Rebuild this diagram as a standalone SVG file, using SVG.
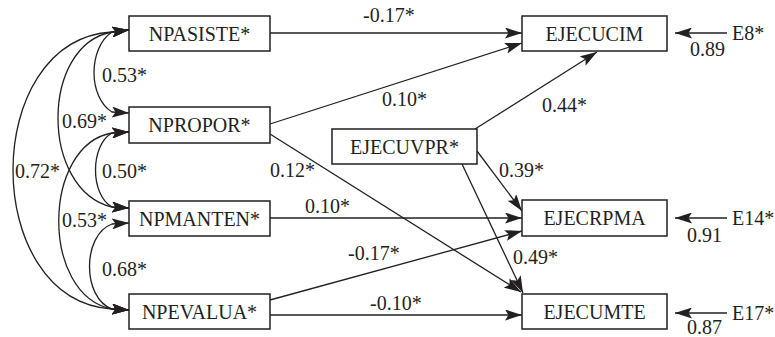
<svg xmlns="http://www.w3.org/2000/svg" width="775" height="337" viewBox="0 0 775 337">
  <style>
    .box { fill: #ffffff; stroke: #231f20; stroke-width: 1.5; }
    .lbl { font-family: "Liberation Serif", "Times New Roman", Tinos, "DejaVu Serif", serif; font-size: 20px; fill: #231f20; }
    .name { text-anchor: middle; }
    .edge { fill: none; stroke: #231f20; stroke-width: 1.3; marker-end: url(#ah); }
    .cov { fill: none; stroke: #231f20; stroke-width: 1.3; marker-start: url(#ah); marker-end: url(#ah); }
    .head { fill: #231f20; stroke: none; }
  </style>
  <defs>
    <marker id="ah" viewBox="0 0 17 11" refX="17" refY="5.5" markerWidth="17" markerHeight="11" markerUnits="userSpaceOnUse" orient="auto-start-reverse">
      <path class="head" d="M0,0 L17,5.5 L0,11 L3.5,5.5 z"/>
    </marker>
  </defs>

  <!-- connectors: regression paths, covariances, error terms -->
  <g id="connectors">
    <!-- paths to EJECUCIM -->
    <line class="edge" x1="270" y1="33" x2="522" y2="33"/>
    <line class="edge" x1="270" y1="124" x2="522" y2="43"/>
    <line class="edge" x1="475" y1="129" x2="597" y2="52"/>
    <!-- paths to EJECRPMA -->
    <line class="edge" x1="270" y1="218" x2="522" y2="218"/>
    <line class="edge" x1="270" y1="300" x2="522" y2="231"/>
    <line class="edge" x1="477" y1="151" x2="522" y2="211"/>
    <!-- paths to EJECUMTE -->
    <line class="edge" x1="270" y1="134" x2="521" y2="292"/>
    <line class="edge" x1="462" y1="164" x2="523" y2="293"/>
    <line class="edge" x1="270" y1="315" x2="522" y2="315"/>
    <!-- error terms -->
    <line class="edge" x1="727" y1="33" x2="675" y2="33"/>
    <line class="edge" x1="727" y1="218" x2="675" y2="218"/>
    <line class="edge" x1="727" y1="313" x2="675" y2="313"/>

    <!-- covariances among the predictors -->
    <path class="cov" d="M129,30 L112,32 C88,48 88,97 112,112 L129,113"/>
    <path class="cov" d="M129,30 L112,32 C40,45 40,190 112,207 L129,208"/>
    <path class="cov" d="M129,30 L112,32 C-20,40 -20,300 112,309 L129,310"/>
    <path class="cov" d="M129,132 L112,133 C90,145 90,195 112,207 L129,208"/>
    <path class="cov" d="M129,132 L112,133 C42,145 40,295 112,309 L129,310"/>
    <path class="cov" d="M129,223 L112,224 C82,235 82,298 112,309 L129,310"/>

    <!-- coefficient labels -->
    <text class="lbl" x="363" y="22">-0.17*</text>
    <text class="lbl" x="382" y="106">0.10*</text>
    <text class="lbl" x="542" y="112">0.44*</text>
    <text class="lbl" x="499" y="177">0.39*</text>
    <text class="lbl" x="270" y="177">0.12*</text>
    <text class="lbl" x="305" y="213">0.10*</text>
    <text class="lbl" x="348" y="260">-0.17*</text>
    <text class="lbl" x="513" y="264">0.49*</text>
    <text class="lbl" x="370" y="310">-0.10*</text>
    <text class="lbl" x="102" y="82">0.53*</text>
    <text class="lbl" x="62" y="128">0.69*</text>
    <text class="lbl" x="15" y="178">0.72*</text>
    <text class="lbl" x="102" y="178">0.50*</text>
    <text class="lbl" x="62" y="227">0.53*</text>
    <text class="lbl" x="102" y="276">0.68*</text>
    <text class="lbl" x="690" y="56">0.89</text>
    <text class="lbl" x="687" y="242">0.91</text>
    <text class="lbl" x="687" y="334">0.87</text>
  </g>

  <!-- predictors -->
  <g id="npasiste">
    <rect class="box" x="129" y="16" width="141" height="35"/>
    <text class="lbl name" x="199.5" y="41">NPASISTE*</text>
  </g>
  <g id="npropor">
    <rect class="box" x="129" y="107" width="141" height="36"/>
    <text class="lbl name" x="199.5" y="132">NPROPOR*</text>
  </g>
  <g id="npmanten">
    <rect class="box" x="129" y="201" width="141" height="35"/>
    <text class="lbl name" x="199.5" y="226">NPMANTEN*</text>
  </g>
  <g id="npevalua">
    <rect class="box" x="129" y="294" width="141" height="35"/>
    <text class="lbl name" x="199.5" y="319">NPEVALUA*</text>
  </g>
  <g id="ejecuvpr">
    <rect class="box" x="332" y="129" width="145" height="35"/>
    <text class="lbl name" x="404.5" y="154">EJECUVPR*</text>
  </g>

  <!-- outcomes -->
  <g id="ejecucim">
    <rect class="box" x="522" y="16" width="145" height="35"/>
    <text class="lbl name" x="594.5" y="41">EJECUCIM</text>
  </g>
  <g id="ejecrpma">
    <rect class="box" x="522" y="200" width="145" height="36"/>
    <text class="lbl name" x="594.5" y="225">EJECRPMA</text>
  </g>
  <g id="ejecumte">
    <rect class="box" x="522" y="294" width="145" height="35"/>
    <text class="lbl name" x="594.5" y="319">EJECUMTE</text>
  </g>

  <!-- error terms -->
  <g id="e8"><text class="lbl" x="732" y="40">E8*</text></g>
  <g id="e14"><text class="lbl" x="732" y="225">E14*</text></g>
  <g id="e17"><text class="lbl" x="732" y="320">E17*</text></g>
</svg>
